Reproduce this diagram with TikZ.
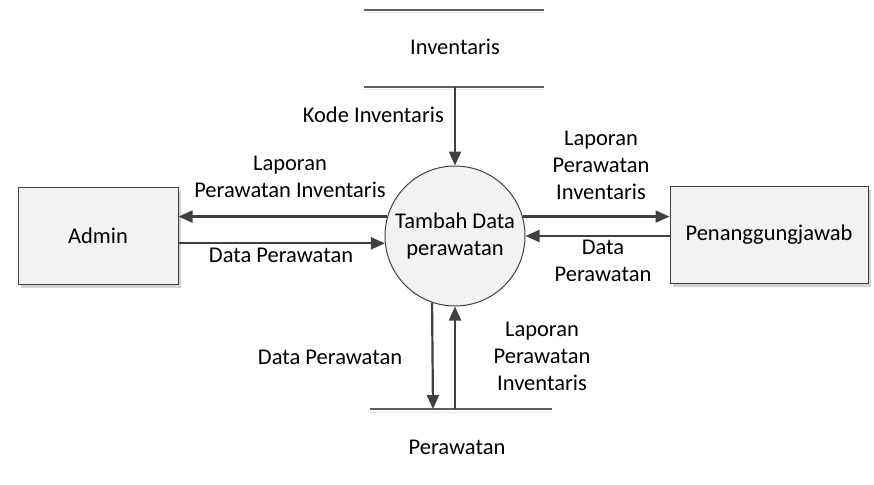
\documentclass[tikz,border=0pt]{standalone}
\usepackage{fontspec}
\setmainfont{Carlito}
\usetikzlibrary{arrows.meta,shadows}

\definecolor{linegray}{HTML}{404040}
\definecolor{boxgray}{HTML}{F2F2F2}

\begin{document}
\begin{tikzpicture}[
        x=1pt, y=-1pt,
        font=\fontsize{22.5}{27}\selectfont,
        entity/.style={draw=linegray,line width=1pt,fill=boxgray,minimum width=160pt,minimum height=97pt,
            drop shadow={shadow xshift=3pt,shadow yshift=-3pt,fill=black!18,opacity=1}},
        process/.style={circle,draw=linegray,line width=1pt,fill=boxgray,minimum size=140pt,inner sep=0pt,align=center},
        flow/.style={-{Triangle[length=14pt,width=12pt]},draw=linegray,line width=2.2pt},
        storeline/.style={draw=linegray!85,line width=1.6pt},
        lbl/.style={align=center,inner sep=0pt}
    ]
    \useasboundingbox (0,0) rectangle (874,484);

    % data stores
    \draw [storeline] (364,10) -- (544,10);
    \draw [black!10,line width=1pt] (364,13) -- (544,13);
    \node (inv) at (455,47) {Inventaris};
    \draw [storeline] (364,87) coordinate (invl) -- (544,87);
    \draw [black!10,line width=1pt] (364,90) -- (544,90);
    \coordinate (invb) at (455,87);

    \draw [storeline] (370,409) -- (552,409);
    \draw [black!10,line width=1pt] (370,412) -- (552,412);
    \coordinate (perl) at (433,409);
    \coordinate (perr) at (455,409);
    \node (per) at (457,447) {Perawatan};

    % process and entities
    \node [process] (proc) at (455,236) {Tambah Data\\perawatan};
    \node [entity] (admin) at (98,236) {Admin};
    \node [entity,minimum width=198pt] (pj) at (769,235) {Penanggungjawab};

    % flows
    \draw [flow] (invb) -- (proc.north);
    \node [lbl,anchor=east] (kode) at (444,115) {Kode Inventaris};

    \draw [flow] (proc.164) -- (admin.east |- proc.164);
    \draw [flow] (admin.east |- proc.186.5) -- (proc.186.5);
    \node [lbl] (lapa) at (290,177) {Laporan\\Perawatan Inventaris};
    \node [lbl] (dpa) at (281,255) {Data Perawatan};

    \draw [flow] (proc.16) -- (pj.west |- proc.16);
    \draw [flow] (pj.west |- proc.east) -- (proc.east);
    \node [lbl] (lapb) at (601,165) {Laporan\\Perawatan\\Inventaris};
    \node [lbl] (dpb) at (603,261) {Data\\Perawatan};

    \draw [flow] (proc.251.7) -- (perl);
    \draw [flow] (perr) -- (proc.south);
    \node [lbl] (dpc) at (330,357) {Data Perawatan};
    \node [lbl] (lapc) at (542,356) {Laporan\\Perawatan\\Inventaris};
\end{tikzpicture}
\end{document}
